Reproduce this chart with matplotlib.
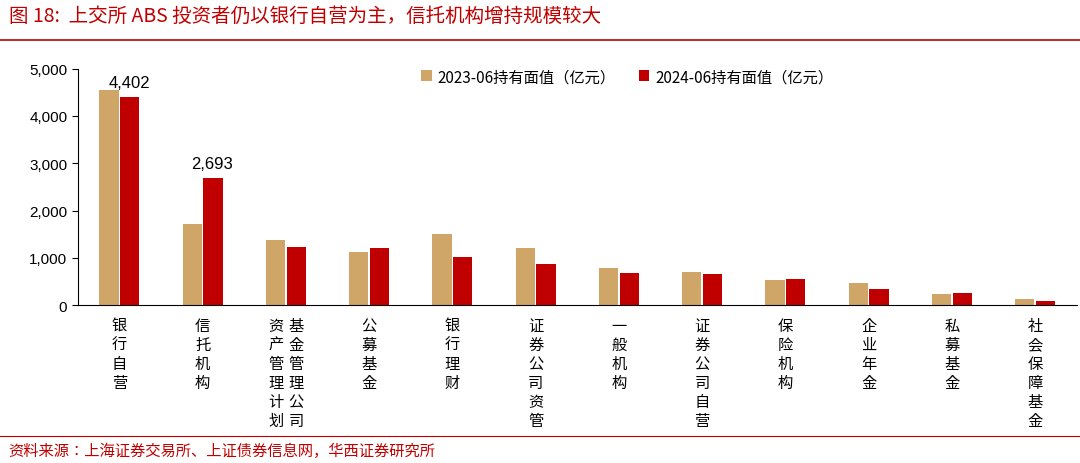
import matplotlib
matplotlib.use("Agg")
import matplotlib.pyplot as plt
import matplotlib.transforms as mt
from matplotlib import font_manager as fm
import numpy as np

cjk = [f.name for f in fm.fontManager.ttflist if "CJK" in f.name]
pref = [n for n in ["Noto Sans CJK SC", "Noto Sans CJK JP", "Noto Sans CJK TC", "Noto Sans CJK KR"] if n in cjk]
plt.rcParams["font.family"] = "sans-serif"
plt.rcParams["font.sans-serif"] = pref + cjk[:1] + ["DejaVu Sans"]

categories = ["银行自营", "信托机构", ("资产管理计划", "基金管理公司"), "公募基金", "银行理财",
              "证券公司资管", "一般机构", "证券公司自营", "保险机构", "企业年金", "私募基金", "社会保障基金"]
v2023 = [4550, 1720, 1380, 1120, 1500, 1200, 780, 710, 530, 480, 240, 130]
v2024 = [4402, 2693, 1220, 1200, 1010, 870, 690, 650, 550, 350, 260, 100]
yticks = [0, 1000, 2000, 3000, 4000, 5000]

fig = plt.figure(figsize=(10.8, 4.64), dpi=100)
ax = fig.add_axes([0.072, 0.34, 0.925, 0.51])
x = np.arange(len(categories))
w = 0.23
ax.bar(x - w/2 - 0.01, v2023, w, color="#CFA668", label="2023-06持有面值（亿元）")
ax.bar(x + w/2 + 0.01, v2024, w, color="#C00000", label="2024-06持有面值（亿元）")
ax.set_ylim(0, 5000)
ax.set_xlim(-0.5, len(categories) - 0.5)
ax.set_yticks(yticks)
ax.set_yticklabels([f"{t:,}" for t in yticks], fontfamily="Liberation Sans", fontsize=11)
ax.set_xticks([])
for s in ["top", "right"]:
    ax.spines[s].set_visible(False)
ax.tick_params(axis="y", direction="out", length=4)
for i in [0, 1]:
    ax.text(x[i] + w/2, v2024[i] + 150, f"{v2024[i]:,}", ha="center", va="bottom",
            fontfamily="Liberation Sans", fontsize=12)
tr = mt.blended_transform_factory(ax.transData, ax.transAxes)
for i, c in enumerate(categories):
    if isinstance(c, tuple):
        for j, part in enumerate(c):
            ax.text(x[i] - 0.12 + 0.24*j, -0.05, "\n".join(part), transform=tr, ha="center", va="top",
                    fontsize=11, linespacing=1.15)
    else:
        ax.text(x[i], -0.05, "\n".join(c), transform=tr, ha="center", va="top", fontsize=11, linespacing=1.15)
ax.legend(loc="upper center", bbox_to_anchor=(0.55, 1.06), ncol=2, frameon=False, fontsize=11,
          handlelength=0.7, handleheight=0.7, columnspacing=1.5, handletextpad=0.4)

fig.text(0.008, 0.965, "图 18:  上交所 ABS 投资者仍以银行自营为主，信托机构增持规模较大",
         color="#C00000", fontsize=14, ha="left", va="center")
fig.add_artist(plt.Line2D([0, 1], [0.912, 0.912], color="#C00000", lw=1.2, transform=fig.transFigure))
fig.add_artist(plt.Line2D([0, 1], [0.058, 0.058], color="#C00000", lw=0.8, transform=fig.transFigure))
fig.text(0.008, 0.028, "资料来源：上海证券交易所、上证债券信息网，华西证券研究所", color="#C00000",
         fontsize=11, ha="left", va="center")
fig.savefig("out.png", dpi=100)
